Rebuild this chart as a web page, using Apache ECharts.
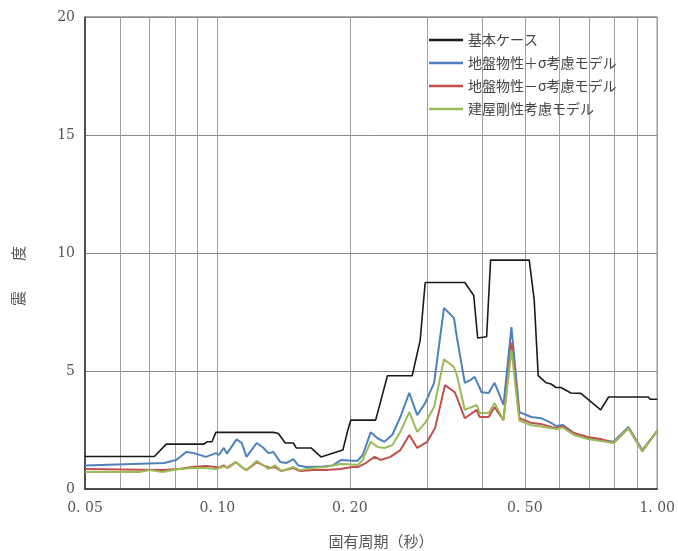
<!DOCTYPE html>
<html>
<head>
<meta charset="utf-8">
<script src="https://cdn.jsdelivr.net/npm/echarts@6/dist/echarts.min.js"></script>
<style>
html,body{margin:0;padding:0;background:#fff;}
#chart{width:678px;height:551px;}
</style>
</head>
<body>
<div id="chart"></div>
<script>
// Series names
const seriesNames = ['基本ケース', '地盤物性＋σ考慮モデル', '地盤物性－σ考慮モデル', '建屋剛性考慮モデル'];

// [period (s), seismic intensity]
const baseCase = [[0.05,1.38],[0.0719,1.38],[0.0765,1.9],[0.0932,1.9],[0.0947,2.0],[0.0972,2.0],[0.0992,2.4],[0.1341,2.4],[0.1376,2.35],[0.1427,1.95],[0.1488,1.95],[0.1511,1.74],[0.1633,1.74],[0.1720,1.36],[0.1784,1.45],[0.1929,1.65],[0.1980,2.5],[0.2011,2.92],[0.2290,2.92],[0.2436,4.8],[0.2773,4.8],[0.2891,6.3],[0.2968,8.75],[0.3652,8.75],[0.3827,8.2],[0.3907,6.4],[0.4094,6.45],[0.4180,9.7],[0.5118,9.7],[0.5253,8.0],[0.5364,4.8],[0.5592,4.5],[0.5738,4.45],[0.5888,4.3],[0.6043,4.3],[0.6365,4.07],[0.6706,4.05],[0.7439,3.35],[0.7754,3.9],[0.9543,3.9],[0.9643,3.8],[1.0,3.8]];

const soilPlus = [[0.05,1.0],[0.0757,1.1],[0.0806,1.23],[0.0849,1.57],[0.0885,1.52],[0.0942,1.36],[0.0992,1.52],[0.1008,1.44],[0.1034,1.74],[0.1051,1.5],[0.1106,2.1],[0.1136,1.95],[0.1165,1.36],[0.1228,1.95],[0.1266,1.78],[0.1306,1.52],[0.1341,1.57],[0.1390,1.14],[0.1434,1.1],[0.1488,1.27],[0.1527,1.0],[0.1591,0.93],[0.1738,0.95],[0.1831,1.0],[0.1909,1.23],[0.2032,1.2],[0.2085,1.2],[0.2140,1.44],[0.2231,2.4],[0.2313,2.15],[0.2398,2.0],[0.2500,2.3],[0.2606,3.05],[0.2731,4.07],[0.2847,3.13],[0.2968,3.64],[0.3110,4.5],[0.3275,7.67],[0.3450,7.25],[0.3503,6.44],[0.3652,4.5],[0.3748,4.6],[0.3846,4.75],[0.3989,4.1],[0.4137,4.07],[0.4268,4.5],[0.4472,3.56],[0.4662,6.86],[0.4860,3.26],[0.5172,3.05],[0.5448,3.0],[0.5738,2.8],[0.5888,2.67],[0.6106,2.71],[0.6466,2.37],[0.6954,2.16],[0.7439,2.08],[0.7958,2.0],[0.8603,2.63],[0.9252,1.65],[1.0,2.46]];

const soilMinus = [[0.05,0.85],[0.0665,0.82],[0.0750,0.8],[0.0819,0.85],[0.0876,0.93],[0.0942,0.97],[0.0992,0.93],[0.1008,0.9],[0.1034,1.0],[0.1051,0.9],[0.1101,1.14],[0.1136,0.93],[0.1165,0.8],[0.1228,1.14],[0.1273,1.0],[0.1320,0.89],[0.1355,0.93],[0.1397,0.76],[0.1488,0.89],[0.1543,0.76],[0.1650,0.8],[0.1765,0.8],[0.1899,0.85],[0.2032,0.93],[0.2085,0.93],[0.2174,1.1],[0.2278,1.36],[0.2349,1.23],[0.2474,1.36],[0.2606,1.65],[0.2731,2.29],[0.2847,1.74],[0.2999,2.0],[0.3126,2.58],[0.3292,4.4],[0.3467,4.1],[0.3652,3.0],[0.3886,3.35],[0.3948,3.05],[0.4137,3.05],[0.4268,3.47],[0.4472,2.92],[0.4662,6.2],[0.4860,3.0],[0.5172,2.8],[0.5448,2.75],[0.5888,2.58],[0.6106,2.67],[0.6466,2.37],[0.6954,2.2],[0.7439,2.12],[0.7958,1.95],[0.8603,2.58],[0.9252,1.6],[1.0,2.46]];

const bldgStiff = [[0.05,0.72],[0.0665,0.72],[0.0701,0.8],[0.0750,0.72],[0.0819,0.85],[0.0876,0.89],[0.0942,0.89],[0.0992,0.85],[0.1034,0.95],[0.1061,0.9],[0.1101,1.14],[0.1136,0.93],[0.1165,0.8],[0.1228,1.19],[0.1273,1.0],[0.1306,0.85],[0.1355,1.0],[0.1397,0.76],[0.1488,0.93],[0.1543,0.8],[0.1650,0.89],[0.1765,0.93],[0.1899,1.06],[0.2032,1.04],[0.2085,1.02],[0.2140,1.23],[0.2231,2.0],[0.2313,1.78],[0.2398,1.74],[0.2500,1.86],[0.2606,2.42],[0.2731,3.26],[0.2847,2.42],[0.2968,2.8],[0.3110,3.47],[0.3275,5.5],[0.3450,5.17],[0.3503,4.83],[0.3652,3.35],[0.3886,3.56],[0.3948,3.22],[0.4137,3.22],[0.4268,3.64],[0.4472,2.92],[0.4662,5.9],[0.4860,2.9],[0.5172,2.7],[0.5448,2.65],[0.5888,2.54],[0.6106,2.6],[0.6466,2.29],[0.6954,2.12],[0.7439,2.03],[0.7958,1.95],[0.8603,2.58],[0.9252,1.6],[1.0,2.46]];

// Axis ticks
const xGridValues = [0.05,0.06,0.07,0.08,0.09,0.1,0.2,0.3,0.4,0.5,0.6,0.7,0.8,0.9,1.0];
const xLabelValues = [0.05,0.1,0.2,0.5,1.0];
const yMin = 0, yMax = 20, yInterval = 5;

const colors = ['#1a1a1a', '#4f81bd', '#c0504d', '#9bbb59'];
const allData = [baseCase, soilPlus, soilMinus, bldgStiff];

const chart = echarts.init(document.getElementById('chart'), null, {renderer: 'canvas'});
const serifFont = '"DejaVu Serif", "Liberation Serif", serif';
chart.setOption({
  animation: false,
  backgroundColor: '#fff',
  grid: {left: 85, right: 16, top: 17, bottom: 62, show: true, borderColor: '#555', borderWidth: 1},
  legend: {
    orient: 'vertical', left: 424, top: 27, itemGap: 7,
    itemWidth: 34, itemHeight: 2.5, icon: 'rect',
    textStyle: {fontFamily: '"Noto Sans CJK JP", sans-serif', fontSize: 14, color: '#444', lineHeight: 16},
    data: seriesNames
  },
  xAxis: {
    type: 'log', logBase: 10, min: 0.05, max: 1.0,
    axisLine: {show: true, lineStyle: {color: '#333', width: 1.5}},
    axisTick: {show: false, customValues: xGridValues},
    splitLine: {show: true, lineStyle: {color: '#a0a0a0', width: 1}},
    minorSplitLine: {show: false},
    axisLabel: {
      customValues: xLabelValues, margin: 12,
      fontFamily: serifFont, fontSize: 14, color: '#555',
      formatter: v => Number(v).toFixed(2).replace('.', '. ')
    }
  },
  yAxis: {
    type: 'value', min: yMin, max: yMax, interval: yInterval,
    axisLine: {show: true, lineStyle: {color: '#333', width: 1.5}},
    axisTick: {show: false},
    splitLine: {show: true, lineStyle: {color: '#8a8a8a', width: 1}},
    axisLabel: {margin: 10, fontFamily: serifFont, fontSize: 14, color: '#555'}
  },
  graphic: [
    {type: 'text', x: 18, y: 276, rotation: Math.PI / 2,
     style: {text: '震　　度', fontFamily: '"Noto Sans CJK JP", sans-serif', fontSize: 15, fill: '#555', align: 'center', verticalAlign: 'middle'}},
    {type: 'text', x: 381, y: 541,
     style: {text: '固有周期（秒）', fontFamily: '"Noto Sans CJK JP", sans-serif', fontSize: 15, fill: '#555', align: 'center', verticalAlign: 'middle'}}
  ],
  series: seriesNames.map((name, i) => ({
    name, type: 'line', data: allData[i], showSymbol: false, symbol: 'none',
    lineStyle: {color: colors[i], width: i === 0 ? 1.6 : 2},
    itemStyle: {color: colors[i]},
    z: 2 + i
  }))
});
</script>
</body>
</html>
